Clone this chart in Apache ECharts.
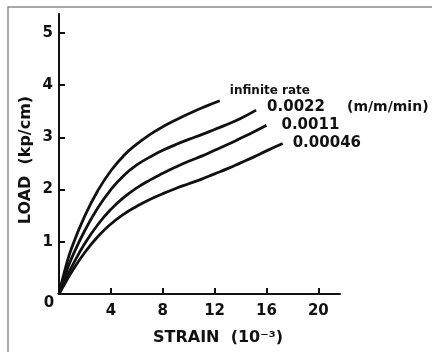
<!DOCTYPE html>
<html>
<head>
<meta charset="utf-8">
<script src="https://cdn.jsdelivr.net/npm/echarts@6/dist/echarts.min.js"></script>
<style>
  html, body { margin: 0; padding: 0; background: #fff; }
  #chart { width: 432px; height: 352px; }
</style>
</head>
<body>
<div id="chart"></div>
<script>
// Load–strain curves for different strain rates
const xTicks = [4, 8, 12, 16, 20];
const yTicks = [1, 2, 3, 4, 5];

const rateNames = ['infinite rate', '0.0022', '0.0011', '0.00046'];
const rateUnit = '(m/m/min)';

// [strain (10^-3), load (kp/cm)]
const infiniteRate = [[0,0],[0.5,0.5],[1,0.9],[2,1.5],[3,1.98],[4,2.36],[5,2.65],[6,2.87],[7,3.05],[8,3.2],[9,3.33],[10,3.45],[11,3.56],[12,3.66],[12.4,3.7]];
const rate0022 = [[0,0],[0.5,0.38],[1,0.7],[2,1.22],[3,1.65],[4,2.0],[5,2.27],[6,2.47],[7,2.62],[8,2.75],[9,2.86],[10,2.96],[11,3.05],[12,3.15],[13,3.25],[14,3.36],[15.2,3.52]];
const rate0011 = [[0,0],[0.5,0.28],[1,0.53],[2,0.97],[3,1.33],[4,1.62],[5,1.85],[6,2.03],[7,2.18],[8,2.31],[9,2.43],[10,2.54],[11,2.64],[12,2.75],[13,2.86],[14,2.98],[15,3.1],[16,3.23]];
const rate00046 = [[0,0],[0.5,0.22],[1,0.43],[2,0.8],[3,1.1],[4,1.34],[5,1.53],[6,1.68],[7,1.81],[8,1.92],[9,2.02],[10,2.11],[11,2.2],[12,2.3],[13,2.4],[14,2.51],[15,2.62],[16,2.74],[17.25,2.88]];

const font = 'DejaVu Sans';
const ink = '#111';

const labelOffsets = [[10, -10], [11, -3], [15, 0], [10, 0]];
const seriesData = [infiniteRate, rate0022, rate0011, rate00046];

const series = seriesData.map((d, i) => ({
  type: 'line',
  data: d,
  smooth: 0.5,
  showSymbol: false,
  lineStyle: { color: ink, width: 2.8 },
  endLabel: {
    show: true,
    distance: 0,
    offset: labelOffsets[i],
    formatter: i === 1 ? '{v|' + rateNames[i] + '}{u|' + rateUnit + '}' : rateNames[i],
    fontFamily: font,
    fontWeight: 'bold',
    fontSize: i === 0 ? 12 : 15,
    color: ink,
    rich: {
      v: { fontFamily: font, fontWeight: 'bold', fontSize: 15, color: ink },
      u: { fontFamily: font, fontWeight: 'bold', fontSize: 14, color: ink, padding: [0, 0, 0, 22] }
    }
  }
}));

const chart = echarts.init(document.getElementById('chart'), null, { renderer: 'canvas' });
chart.setOption({
  animation: false,
  backgroundColor: '#fff',
  grid: { left: 59, top: 14, width: 281, height: 280, containLabel: false },
  xAxis: {
    type: 'value',
    min: 0,
    max: 21.67,
    interval: 4,
    splitLine: { show: false },
    axisLine: { lineStyle: { color: ink, width: 2 } },
    axisTick: { show: true, inside: true, length: 6, customValues: xTicks, lineStyle: { color: ink, width: 2 } },
    axisLabel: { customValues: xTicks, margin: 10, fontFamily: font, fontWeight: 'bold', fontSize: 15, color: ink }
  },
  yAxis: {
    type: 'value',
    min: 0,
    max: 5.36,
    interval: 1,
    splitLine: { show: false },
    axisLine: { lineStyle: { color: ink, width: 2 } },
    axisTick: { show: true, inside: true, length: 6, customValues: yTicks, lineStyle: { color: ink, width: 2 } },
    axisLabel: { customValues: yTicks, margin: 6, fontFamily: font, fontWeight: 'bold', fontSize: 15, color: ink }
  },
  series: series,
  graphic: [
    { type: 'rect', shape: { x: 8, y: 7, width: 430, height: 350 }, style: { fill: 'none', stroke: '#8c8c8c', lineWidth: 1.5 }, silent: true },
    { type: 'text', x: 49, y: 303, style: { text: '0', font: 'bold 15px "DejaVu Sans"', fill: ink, align: 'center', verticalAlign: 'middle' } },
    { type: 'text', x: 218, y: 338, style: { text: 'STRAIN  (10⁻³)', font: 'bold 16px "DejaVu Sans"', fill: ink, align: 'center', verticalAlign: 'middle' } },
    { type: 'text', x: 26, y: 160, rotation: Math.PI / 2, style: { text: 'LOAD  (kp/cm)', font: 'bold 16px "DejaVu Sans"', fill: ink, align: 'center', verticalAlign: 'middle' } }
  ]
});
</script>
</body>
</html>
